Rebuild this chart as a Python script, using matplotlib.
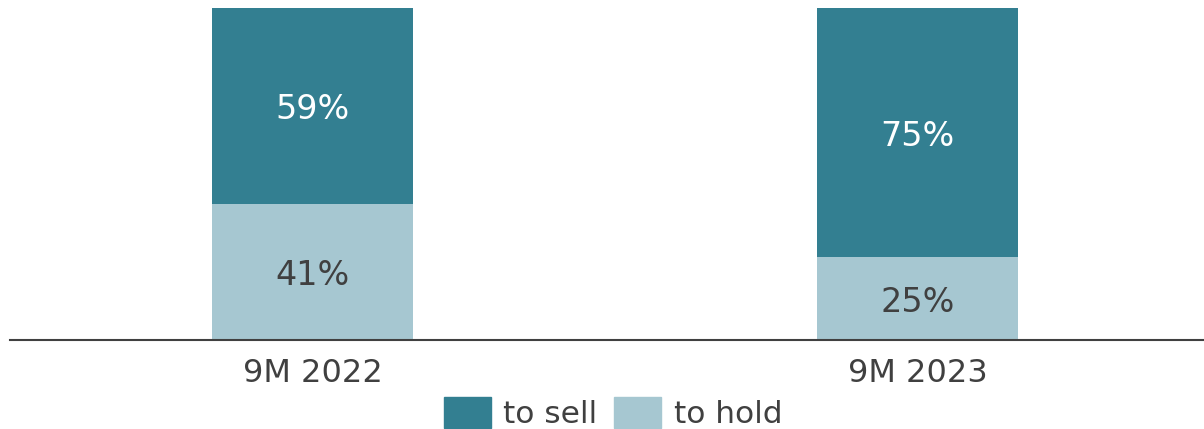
import matplotlib.pyplot as plt
from matplotlib.patches import Patch

categories = ['9M 2022', '9M 2023']
to_hold = [41, 25]
to_sell = [59, 75]

dark = '#337F91'
light = '#A6C7D1'
txt = '#404040'

fig = plt.figure(figsize=(12.04, 4.29), dpi=100)
ax = fig.add_axes([10 / 1204, 1 - 340 / 429, 1 - 10 / 1204, 332 / 429])

x = range(len(categories))
w = 0.332
ax.bar(x, to_hold, width=w, color=light)
ax.bar(x, to_sell, width=w, bottom=to_hold, color=dark)

for i in x:
    ax.text(i, to_hold[i] / 2, f'{to_hold[i]}%', ha='center', va='center_baseline',
            fontsize=24, color=txt)
    ax.text(i, to_hold[i] + to_sell[i] / 2, f'{to_sell[i]}%', ha='center',
            va='center_baseline', fontsize=24, color='white')

ax.set_xlim(-0.5, 1.4735)
ax.set_ylim(0, 100)
ax.set_xticks(list(x))
ax.set_xticklabels(categories, fontsize=23, color=txt)
ax.tick_params(axis='x', length=0, pad=13)
ax.set_yticks([])
for s in ['top', 'right', 'left']:
    ax.spines[s].set_visible(False)
ax.spines['bottom'].set_color('#404040')
ax.spines['bottom'].set_linewidth(1.5)

handles = [Patch(color=dark, label='to sell'), Patch(color=light, label='to hold')]
fig.legend(handles=handles, loc='center', bbox_to_anchor=(613 / 1204, 1 - 413 / 429),
           ncol=2, frameon=False, fontsize=22.5, labelcolor=txt,
           handlelength=1.5, handleheight=1.15, handletextpad=0.4, columnspacing=0.55,
           borderpad=0)

fig.savefig('out.png', dpi=100)
